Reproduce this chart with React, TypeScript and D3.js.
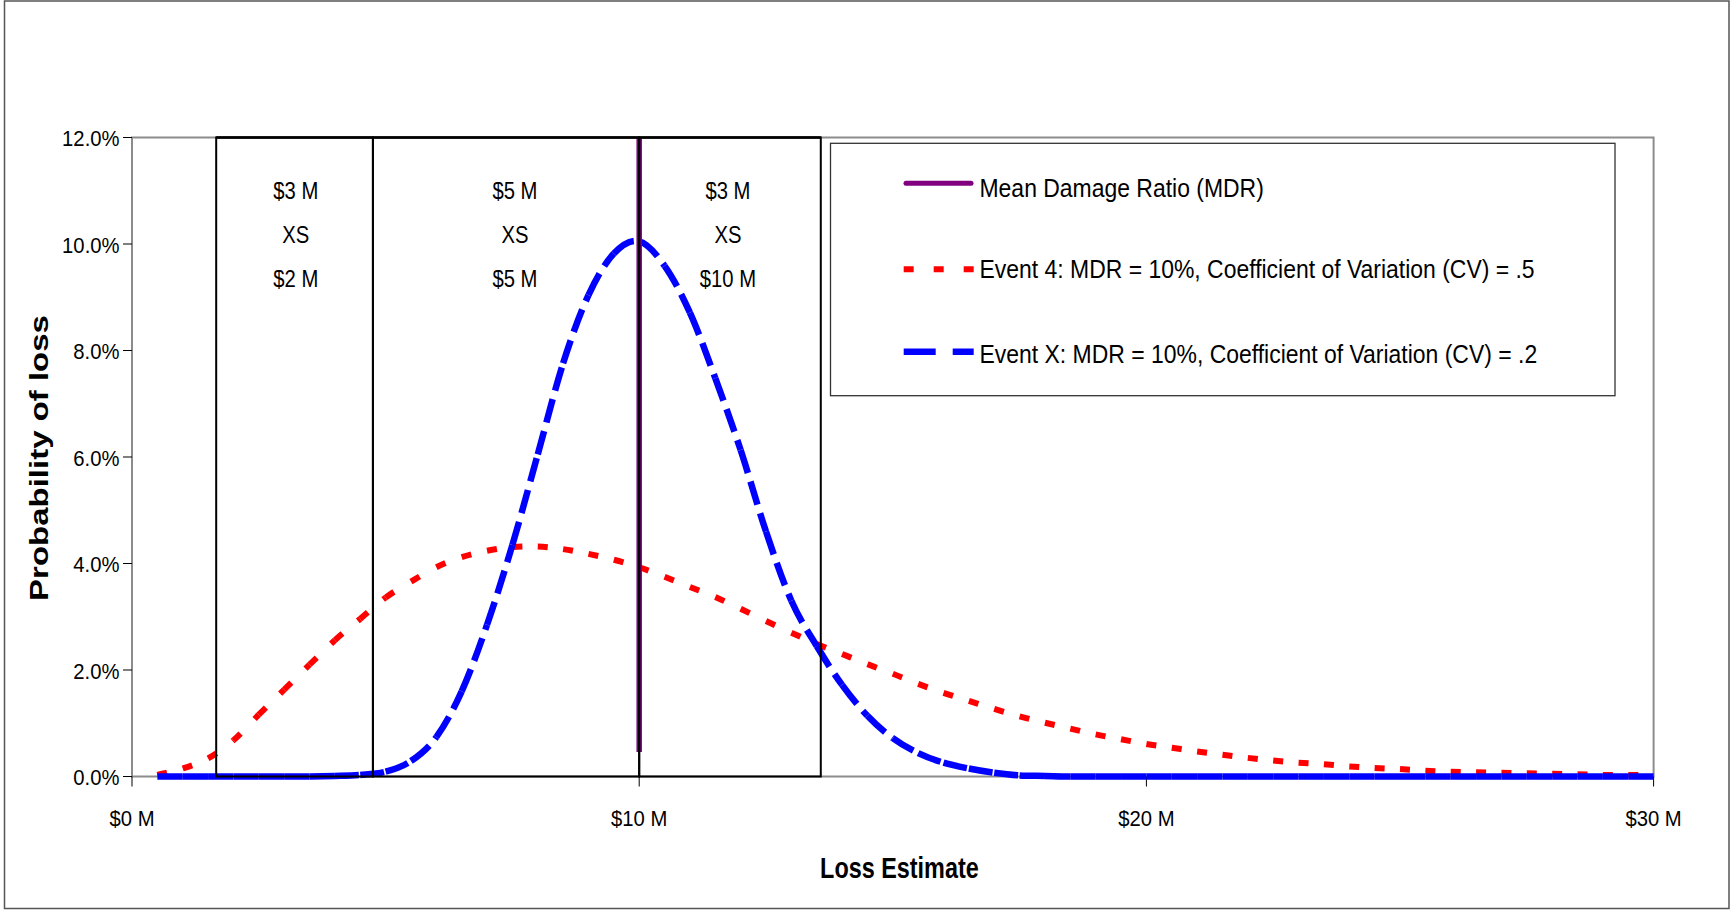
import React from "react";
import * as d3 from "d3";

// Loss estimate grid, in $ millions
const lossM = [
  0.5, 1, 1.5, 2, 2.5, 3, 3.5, 4, 4.5, 5,
  5.5, 6, 6.5, 7, 7.5, 8, 8.5, 9, 9.5, 10,
  10.5, 11, 11.5, 12, 12.5, 13, 13.5, 14, 14.5, 15,
  15.5, 16, 16.5, 17, 17.5, 18, 18.5, 19, 19.5, 20,
  20.5, 21, 21.5, 22, 22.5, 23, 23.5, 24, 24.5, 25,
  25.5, 26, 26.5, 27, 27.5, 28, 28.5, 29, 29.5, 30,
];

// Event 4: MDR = 10%, CV = .5 (probability of loss, %)
const event4Pct = [
  0.03, 0.15, 0.34, 0.68, 1.16, 1.63, 2.1, 2.56, 2.96, 3.36,
  3.66, 3.93, 4.12, 4.24, 4.31, 4.32, 4.27, 4.18, 4.07, 3.93,
  3.75, 3.56, 3.37, 3.15, 2.92, 2.7, 2.49, 2.3, 2.11, 1.93,
  1.74, 1.57, 1.42, 1.27, 1.13, 1.01, 0.9, 0.79, 0.7, 0.61,
  0.54, 0.47, 0.41, 0.35, 0.3, 0.26, 0.23, 0.19, 0.16, 0.14,
  0.11, 0.09, 0.08, 0.07, 0.06, 0.05, 0.04, 0.03, 0.03, 0.02,
];

// Event X: MDR = 10%, CV = .2 (probability of loss, %)
const eventXPct = [
  0, 0, 0, 0, 0, 0, 0, 0.01, 0.03, 0.09,
  0.29, 0.74, 1.6, 2.85, 4.35, 6.05, 7.76, 9.04, 9.82, 10.05,
  9.59, 8.71, 7.48, 6.13, 4.6, 3.3, 2.45, 1.72, 1.14, 0.72,
  0.44, 0.26, 0.15, 0.07, 0.02, 0.01, 0, 0, 0, 0,
  0, 0, 0, 0, 0, 0, 0, 0, 0, 0,
  0, 0, 0, 0, 0, 0, 0, 0, 0, 0,
];

// Mean damage ratio marker: loss and vertical extent (%)
const mdrLoss = 10;
const mdrSpanPct = [0.46, 12];

// Layer boxes: edges in $M, and the label stack centred in each layer
const layerEdges = [1.66, 4.75, 10, 13.58];
const layerLabelAt = [3.23, 7.55, 11.75];
const layerLabels = [
  ["$3 M", "XS", "$2 M"],
  ["$5 M", "XS", "$5 M"],
  ["$3 M", "XS", "$10 M"],
];

const yTicks = [0, 2, 4, 6, 8, 10, 12];
const xTicks = [0, 10, 20, 30];
const yTickLabels = ["0.0%", "2.0%", "4.0%", "6.0%", "8.0%", "10.0%", "12.0%"];
const xTickLabels = ["$0 M", "$10 M", "$20 M", "$30 M"];

const legendLabels = [
  "Mean Damage Ratio (MDR)",
  "Event 4: MDR = 10%, Coefficient of Variation (CV) = .5",
  "Event X: MDR = 10%, Coefficient of Variation (CV) = .2",
];

const W = 1731;
const H = 911;
const FONT = '"Liberation Sans", Arial, Helvetica, sans-serif';
const plot = { left: 132, right: 1653.6, top: 137.5, bottom: 776.5 };

const x = d3.scaleLinear().domain([0, 30]).range([plot.left, plot.right]);
const y = d3.scaleLinear().domain([0, 12]).range([plot.bottom, plot.top]);

// Smoothed (Catmull-Rom) segment between point i and i+1, as its own path,
// so that each segment restarts the dash pattern.
function smoothSegment(px: number[], py: number[], i: number): string {
  const n = px.length;
  const a = Math.max(0, i - 1);
  const d = Math.min(n - 1, i + 2);
  const p = d3.path();
  p.moveTo(px[i], py[i]);
  p.bezierCurveTo(
    px[i] + (px[i + 1] - px[a]) / 6,
    py[i] + (py[i + 1] - py[a]) / 6,
    px[i + 1] - (px[d] - px[i]) / 6,
    py[i + 1] - (py[d] - py[i]) / 6,
    px[i + 1],
    py[i + 1]
  );
  return p.toString();
}

// Segments lying flat on the baseline are drawn unbroken
function SegmentedSeries(props: {
  xs: number[];
  ys: number[];
  color: string;
  width: number;
  dash: string;
  solidBelow?: number;
}) {
  const { xs, ys, color, width, dash, solidBelow = -1 } = props;
  const px = xs.map((v) => x(v));
  const py = ys.map((v) => y(v));
  return (
    <g>
      {xs.slice(1).map((_, i) => {
        const flat = ys[i] <= solidBelow && ys[i + 1] <= solidBelow;
        return (
          <path
            key={i}
            d={smoothSegment(px, py, i)}
            fill="none"
            stroke={color}
            strokeWidth={width}
            strokeDasharray={flat ? "none" : dash}
          />
        );
      })}
    </g>
  );
}

function NarrowText(props: {
  x: number;
  y: number;
  sx: number;
  size: number;
  anchor?: string;
  bold?: boolean;
  rotate?: number;
  children: React.ReactNode;
}) {
  const { x: tx, y: ty, sx, size, anchor = "start", bold, rotate, children } = props;
  const t = `translate(${tx},${ty}) scale(${sx},1)` + (rotate ? ` rotate(${rotate})` : "");
  return (
    <text
      transform={t}
      fontSize={size}
      fontWeight={bold ? "bold" : "normal"}
      textAnchor={anchor}
      fontFamily={FONT}
      fill="#000"
    >
      {children}
    </text>
  );
}

const legendStyles = [
  { color: "#800080", width: 5, dash: "none", cap: "round" },
  { color: "#FF0000", width: 6, dash: "10 20", cap: "butt" },
  { color: "#0000FF", width: 6.5, dash: "32 17", cap: "butt" },
];

export default function App() {
  const legendBox = { x0: 830.5, x1: 1615, y0: 143.3, y1: 395.7 };
  const legendRows = [183.3, 269.3, 351.7];
  const legendBase = [196.7, 278, 363];
  const labelBase = [199.3, 243.3, 286.7];

  return (
    <svg
      width={W}
      height={H}
      viewBox={`0 0 ${W} ${H}`}
      style={{ position: "fixed", left: 0, top: 0, display: "block", background: "#fff" }}
    >
      <rect x={0} y={0} width={W} height={H} fill="#fff" />
      {/* chart area border */}
      <rect x={4.5} y={1} width={1724.5} height={907.5} fill="none" stroke="#555" strokeWidth={1.5} />

      {/* plot area frame */}
      <rect
        x={plot.left}
        y={plot.top}
        width={plot.right - plot.left}
        height={plot.bottom - plot.top}
        fill="#fff"
        stroke="#8c8c8c"
        strokeWidth={2}
      />

      {/* y axis ticks and labels */}
      {yTicks.map((t, i) => (
        <g key={"y" + t}>
          <line x1={plot.left - 9} x2={plot.left} y1={y(t)} y2={y(t)} stroke="#000" strokeWidth={1} />
          <NarrowText x={119.5} y={y(t) + 8.5} sx={0.9} size={22.5} anchor="end">
            {yTickLabels[i]}
          </NarrowText>
        </g>
      ))}

      {/* x axis ticks and labels */}
      {xTicks.map((t, i) => (
        <g key={"x" + t}>
          <line x1={x(t)} x2={x(t)} y1={plot.bottom} y2={plot.bottom + 10} stroke="#000" strokeWidth={1} />
          <NarrowText x={x(t)} y={826} sx={0.9} size={22.5} anchor="middle">
            {xTickLabels[i]}
          </NarrowText>
        </g>
      ))}

      {/* loss distributions */}
      <SegmentedSeries xs={lossM} ys={event4Pct} color="#FF0000" width={6} dash="10 20" />
      <SegmentedSeries xs={lossM} ys={eventXPct} color="#0000FF" width={6.5} dash="24 9" solidBelow={0.02} />

      {/* mean damage ratio */}
      <line
        x1={x(mdrLoss)}
        x2={x(mdrLoss)}
        y1={y(mdrSpanPct[0])}
        y2={y(mdrSpanPct[1])}
        stroke="#800080"
        strokeWidth={5.5}
      />

      {/* layer boxes */}
      {layerEdges.slice(1).map((e, i) => (
        <rect
          key={"box" + i}
          x={x(layerEdges[i])}
          y={y(12)}
          width={x(e) - x(layerEdges[i])}
          height={y(0) - y(12)}
          fill="none"
          stroke="#000"
          strokeWidth={2}
        />
      ))}
      <line x1={x(layerEdges[0])} x2={x(layerEdges[3])} y1={y(12)} y2={y(12)} stroke="#000" strokeWidth={2.5} />

      {/* layer labels */}
      {layerLabels.map((rows, i) =>
        rows.map((r, j) => (
          <NarrowText key={`ll${i}-${j}`} x={x(layerLabelAt[i])} y={labelBase[j]} sx={0.88} size={23} anchor="middle">
            {r}
          </NarrowText>
        ))
      )}

      {/* legend */}
      <rect
        x={legendBox.x0}
        y={legendBox.y0}
        width={legendBox.x1 - legendBox.x0}
        height={legendBox.y1 - legendBox.y0}
        fill="#fff"
        stroke="#333"
        strokeWidth={1.3}
      />
      {legendLabels.map((lab, i) => (
        <g key={"lg" + i}>
          <line
            x1={i === 0 ? 906 : 903.7}
            x2={i === 0 ? 971 : 973.7}
            y1={legendRows[i]}
            y2={legendRows[i]}
            stroke={legendStyles[i].color}
            strokeWidth={legendStyles[i].width}
            strokeDasharray={legendStyles[i].dash}
            strokeLinecap={legendStyles[i].cap as any}
          />
          <NarrowText x={979.5} y={legendBase[i]} sx={0.9} size={25.5}>
            {lab}
          </NarrowText>
        </g>
      ))}

      {/* axis titles */}
      <NarrowText x={899.4} y={878.3} sx={0.78} size={30} anchor="middle" bold>
        Loss Estimate
      </NarrowText>
      <NarrowText x={48} y={458} sx={0.78} size={33} anchor="middle" bold rotate={-90}>
        Probability of loss
      </NarrowText>
    </svg>
  );
}
